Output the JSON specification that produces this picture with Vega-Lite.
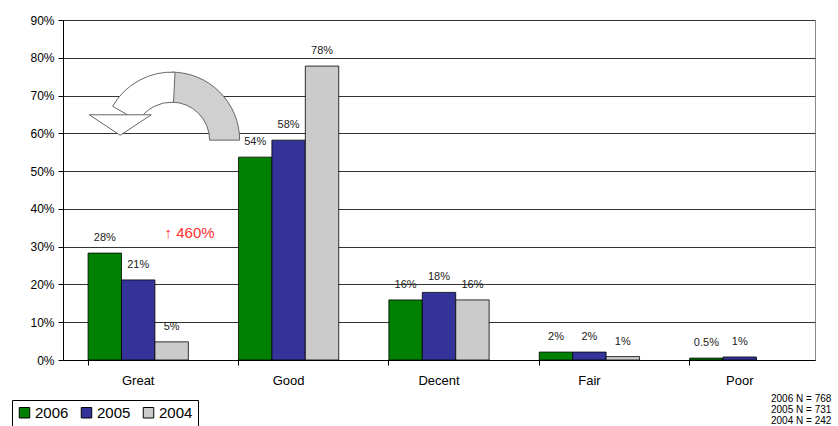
{
  "$schema": "https://vega.github.io/schema/vega-lite/v6.json",
  "autosize": "none",
  "width": 752,
  "height": 340,
  "padding": {"left": 63, "top": 20, "right": 23, "bottom": 66},
  "background": "white",
  "config": {
    "font": "Liberation Sans",
    "view": {"stroke": "#888888", "strokeWidth": 1}
  },
  "title": {
    "text": ["2006 N = 768", "2005 N = 731", "2004 N = 242"],
    "orient": "bottom",
    "anchor": "end",
    "align": "left",
    "dx": -44,
    "offset": -33,
    "fontSize": 10,
    "lineHeight": 11,
    "fontWeight": "normal",
    "color": "#000000"
  },
  "datasets": {
    "bars": [
      {"cat": "Great", "year": "2006", "value": 0.283, "label": "28%"},
      {"cat": "Great", "year": "2005", "value": 0.212, "label": "21%"},
      {"cat": "Great", "year": "2004", "value": 0.048, "label": "5%"},
      {"cat": "Good", "year": "2006", "value": 0.537, "label": "54%"},
      {"cat": "Good", "year": "2005", "value": 0.582, "label": "58%"},
      {"cat": "Good", "year": "2004", "value": 0.778, "label": "78%"},
      {"cat": "Decent", "year": "2006", "value": 0.159, "label": "16%"},
      {"cat": "Decent", "year": "2005", "value": 0.179, "label": "18%"},
      {"cat": "Decent", "year": "2004", "value": 0.159, "label": "16%"},
      {"cat": "Fair", "year": "2006", "value": 0.021, "label": "2%"},
      {"cat": "Fair", "year": "2005", "value": 0.021, "label": "2%"},
      {"cat": "Fair", "year": "2004", "value": 0.009, "label": "1%"},
      {"cat": "Poor", "year": "2006", "value": 0.005, "label": "0.5%"},
      {"cat": "Poor", "year": "2005", "value": 0.008, "label": "1%"}
    ],
    "note": [
      {"cat": "Great", "year": "2004", "value": 0.336, "label": "↑ 460%"}
    ],
    "arrow": [
      {"cat": "Great", "year": "2004", "value": 0.582}
    ],
    "head": [
      {"cat": "Great", "year": "2005", "value": 0.622}
    ]
  },
  "encoding": {
    "x": {
      "field": "cat",
      "type": "nominal",
      "sort": ["Great", "Good", "Decent", "Fair", "Poor"],
      "scale": {"domain": ["Great", "Good", "Decent", "Fair", "Poor"], "paddingInner": 0.3333, "paddingOuter": 0.1667},
      "axis": {
        "title": null,
        "labelAngle": 0,
        "labelFontSize": 13,
        "labelColor": "#000000",
        "labelPadding": 9,
        "bandPosition": 0,
        "domainColor": "#000000",
        "tickColor": "#000000",
        "tickSize": 5,
        "grid": false
      }
    },
    "xOffset": {
      "field": "year",
      "type": "nominal",
      "scale": {"domain": ["2006", "2005", "2004"], "paddingInner": 0, "paddingOuter": 0}
    },
    "y": {
      "field": "value",
      "type": "quantitative",
      "scale": {"domain": [0, 0.9], "nice": false, "zero": true},
      "axis": {
        "title": null,
        "format": ".0%",
        "values": [0, 0.1, 0.2, 0.3, 0.4, 0.5, 0.6, 0.7, 0.8, 0.9],
        "labelFontSize": 12,
        "labelColor": "#000000",
        "labelPadding": 4,
        "domainColor": "#000000",
        "tickColor": "#000000",
        "tickSize": 5,
        "grid": true,
        "gridColor": "#333333",
        "gridWidth": 1.2
      }
    }
  },
  "layer": [
    {
      "data": {"name": "bars"},
      "mark": {"type": "bar", "stroke": "#000000", "strokeWidth": 0.8},
      "encoding": {
        "color": {
          "field": "year",
          "type": "nominal",
          "scale": {"domain": ["2006", "2005", "2004"], "range": ["#008000", "#333399", "#cbcbcb"]},
          "legend": {
            "title": null,
            "orient": "none",
            "legendX": -51,
            "legendY": 380,
            "direction": "horizontal",
            "symbolType": "square",
            "symbolSize": 110,
            "symbolStrokeColor": "#000000",
            "symbolStrokeWidth": 1,
            "symbolOpacity": 1,
            "labelFontSize": 15,
            "labelColor": "#000000",
            "labelOffset": 3,
            "columnPadding": 10,
            "strokeColor": "#000000",
            "padding": 5,
            "fillColor": "white"
          }
        }
      }
    },
    {
      "data": {"name": "bars"},
      "mark": {"type": "text", "baseline": "middle", "dy": -15, "fontSize": 11, "fill": "#222222"},
      "encoding": {"text": {"field": "label"}}
    },
    {
      "data": {"name": "note"},
      "mark": {"type": "text", "baseline": "middle", "dx": 18, "fontSize": 15, "fill": "#ff3030"},
      "encoding": {"text": {"field": "label"}}
    },
    {
      "data": {"name": "arrow"},
      "mark": {"type": "arc", "theta": 0.0001, "theta2": 1.5708, "radius": 68, "radius2": 38, "fill": "#d0d0d0", "stroke": "#666666"}
    },
    {
      "data": {"name": "arrow"},
      "mark": {"type": "arc", "theta": -1.05, "theta2": 0.05, "radius": 68, "radius2": 38, "fill": "#ffffff", "stroke": "#666666"}
    },
    {
      "data": {"name": "head"},
      "mark": {"type": "point", "shape": "M-1.58,-0.33L0.42,-0.33L-0.58,0.33Z", "size": 3844, "filled": true, "fill": "#ffffff", "stroke": "#666666", "strokeWidth": 1, "opacity": 1}
    }
  ]
}
